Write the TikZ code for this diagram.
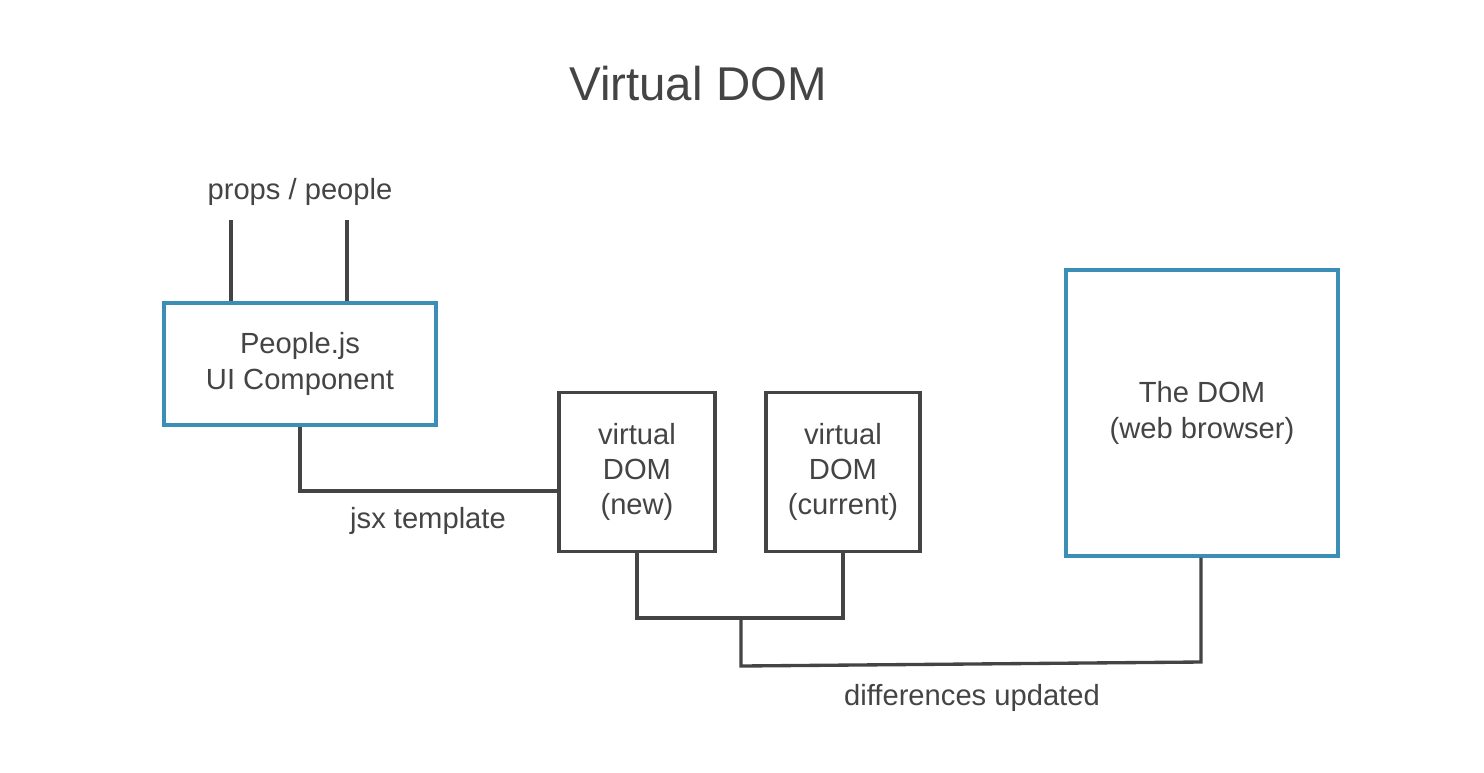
\documentclass[tikz,border=0pt]{standalone}
\usepackage{fontspec}
\setmainfont{Liberation Sans}
\usetikzlibrary{calc}
\definecolor{boxblue}{HTML}{3B8EB5}
\definecolor{ink}{HTML}{444444}
\tikzset{
  wire/.style={draw=ink, line width=1.9pt},
  compbox/.style={draw=boxblue, line width=1.9pt, align=center, inner sep=0pt},
  vdombox/.style={draw=ink, line width=1.9pt, align=center, inner sep=0pt},
  lbl/.style={text=ink, font=\fontsize{16.6}{20}\selectfont, align=center}
}
\begin{document}
\begin{tikzpicture}[x=0.02cm, y=-0.02cm, every node/.style={text=ink, font=\fontsize{16.6}{20}\selectfont}]
			\useasboundingbox (0,0) rectangle (1484,772);
			% title
			\node[font=\fontsize{27}{32}\selectfont] (title) at (698,84) {Virtual DOM};
			% component
			\node[compbox, minimum width=5.44cm, minimum height=2.44cm] (people) at (300,364) {People.js\\UI Component};
			\node[lbl] (props) at (300,192) {props / people};
			\coordinate (pa) at (231,220);
			\coordinate (pb) at (347,220);
			\draw[wire] (pa) -- (pa |- people.north);
			\draw[wire] (pb) -- (pb |- people.north);
			% virtual DOMs
			\node[vdombox, minimum width=3.12cm, minimum height=3.18cm] (vnew) at (637,472) {virtual\\DOM\\(new)};
			\node[vdombox, minimum width=3.08cm, minimum height=3.18cm] (vcur) at (843,472) {virtual\\DOM\\(current)};
			\draw[wire] (people.south) |- ($(vnew.west)+(0,19)$);
			\node[lbl] (jsx) at (428,521) {jsx template};
			% real DOM
			\node[compbox, minimum width=5.44cm, minimum height=5.72cm] (dom) at (1202,413) {The DOM\\(web browser)};
			% diff
			\coordinate (vjoin) at (741,618);
			\coordinate (dleft) at (741,666);
			\coordinate (dright) at (1201,662);
			\draw[wire] (vnew.south) |- (vjoin) -| (vcur.south);
			\draw[wire] (vjoin) -- (dleft) -- (dright) -- (dright |- dom.south);
			\node[lbl] (diff) at (972,698) {differences updated};
		\end{tikzpicture}
\end{document}
